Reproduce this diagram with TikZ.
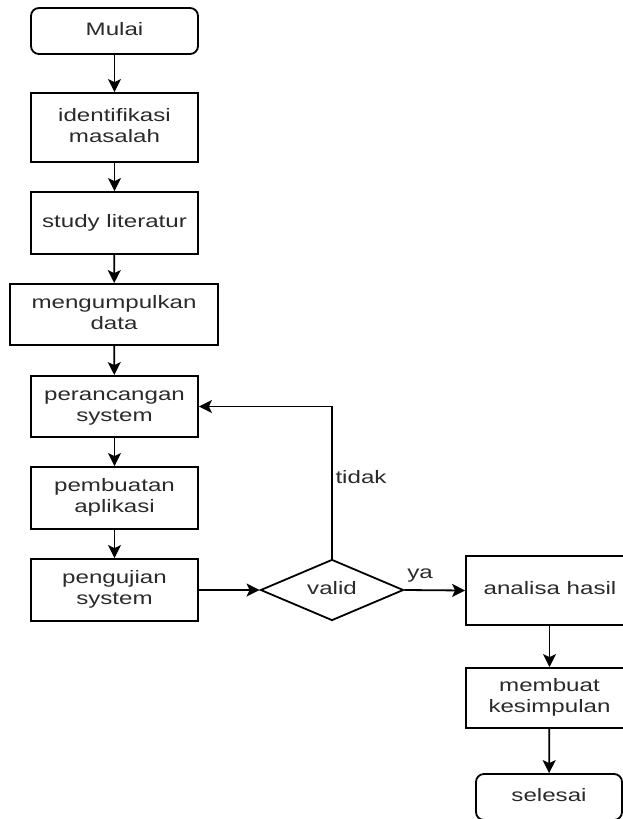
\documentclass[tikz,border=0pt]{standalone}
\usepackage{fontspec}
\usepackage{graphicx}
\setmainfont{Liberation Sans}
\usetikzlibrary{shapes.geometric,arrows.meta}
\definecolor{txt}{HTML}{2A2A2A}
% wide sans label, optionally on several lines
\newcommand{\wlabel}[1]{\scalebox{1.34}[1]{\begin{tabular}{@{}c@{}}#1\end{tabular}}}
\begin{document}
\begin{tikzpicture}[x=1pt,y=-1pt,
  every node/.style={font=\fontsize{18}{21}\selectfont, text=txt},
  stepbox/.style={draw, line width=1.8pt, rectangle, inner sep=0pt},
  termbox/.style={stepbox, rounded corners=8pt},
  decision/.style={draw, line width=1.8pt, diamond, shape aspect=2.3, inner sep=0pt,
    minimum width=143pt, minimum height=61pt},
  flow/.style={line width=1.8pt, -{Stealth[length=13pt,width=13pt,inset=3pt]}}]
\useasboundingbox (0,0) rectangle (623,819);
\clip (0,0) rectangle (623,819);

% main column
\node[termbox, minimum width=167pt, minimum height=46pt] (mulai) at (114.5,31) {\wlabel{Mulai}};
\node[stepbox, minimum width=167pt, minimum height=69pt] (ident) at (114.5,127.5) {\wlabel{identifikasi\\masalah}};
\node[stepbox, minimum width=167pt, minimum height=62pt] (study) at (114.5,223) {\wlabel{study literatur}};
\node[stepbox, minimum width=208pt, minimum height=61pt] (data) at (114,314.5) {\wlabel{mengumpulkan\\data}};
\node[stepbox, minimum width=167pt, minimum height=61pt] (rancang) at (114.5,406.5) {\wlabel{perancangan\\system}};
\node[stepbox, minimum width=167pt, minimum height=62pt] (buat) at (114.5,498) {\wlabel{pembuatan\\aplikasi}};
\node[stepbox, minimum width=167pt, minimum height=62pt] (uji) at (114.5,590) {\wlabel{pengujian\\system}};

% decision
\node[decision] (valid) at (332,590) {\wlabel{valid}};

% right column
\node[stepbox, minimum width=168pt, minimum height=69pt] (analisa) at (550,590.5) {\wlabel{analisa hasil}};
\node[stepbox, minimum width=167pt, minimum height=60pt] (simpul) at (549.5,698) {\wlabel{membuat\\kesimpulan}};
\node[termbox, minimum width=146pt, minimum height=46pt] (selesai) at (549,797) {\wlabel{selesai}};

% connectors
\draw[flow] (mulai) -- (ident);
\draw[flow] (ident) -- (study);
\draw[flow] (study) -- (data);
\draw[flow] (data) -- (rancang);
\draw[flow] (rancang) -- (buat);
\draw[flow] (buat) -- (uji);
\draw[flow] (uji) -- (valid);
\draw[flow] (valid.north) |- (rancang.east);
\draw[flow] (valid.east) -- (analisa.west);
\draw[flow] (analisa.south -| simpul.north) -- (simpul.north);
\draw[flow] (simpul) -- (selesai);

% branch labels
\node (tidak) at (361,479) {\wlabel{tidak}};
\node (ya) at (420,574) {\wlabel{ya}};
\end{tikzpicture}
\end{document}
